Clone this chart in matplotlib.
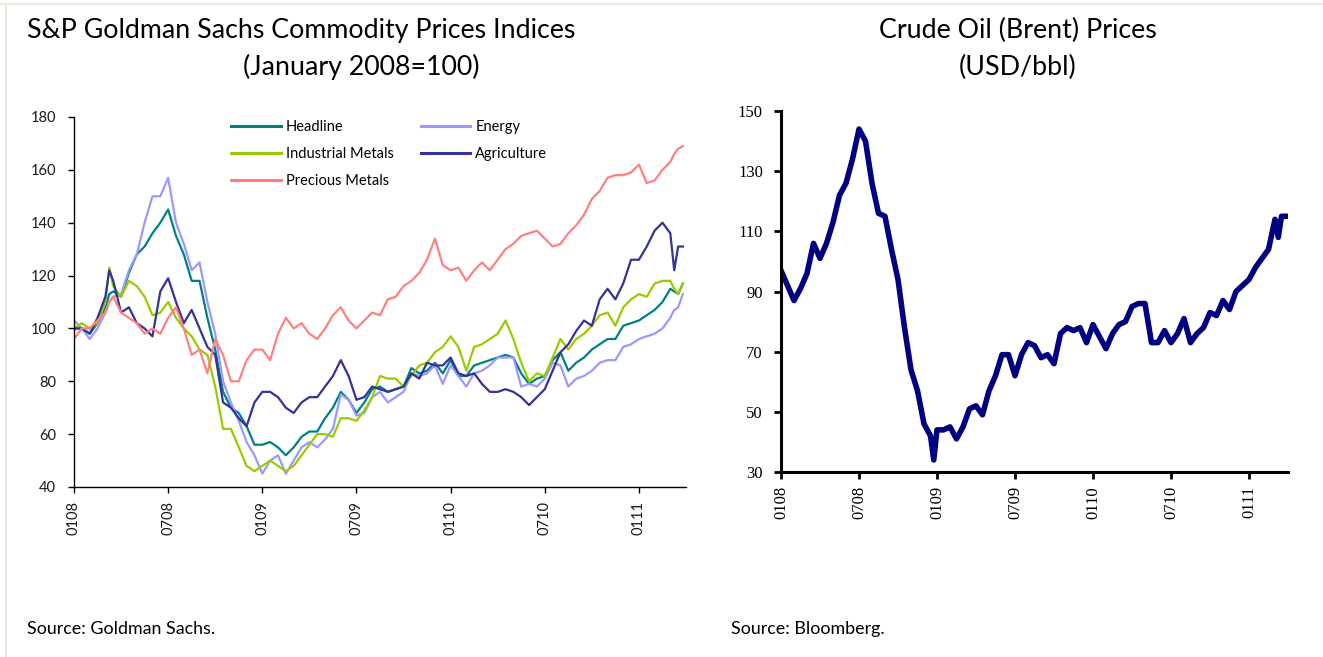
import matplotlib
matplotlib.use('Agg')
import matplotlib.pyplot as plt
from matplotlib.patches import Rectangle
from matplotlib.lines import Line2D

W, H, DPI = 1323, 657, 100

# ---------------- data ----------------
# months since January 2008
gs_months = [0, 0.5, 1, 1.5, 2, 2.25, 2.5, 3, 3.5, 4, 4.5, 5, 5.5, 6, 6.5, 7, 7.5, 8, 8.5, 9,
             9.5, 10, 10.5, 11, 11.5, 12, 12.5, 13, 13.5, 14, 14.5, 15, 15.5, 16, 16.5, 17,
             17.5, 18, 18.5, 19, 19.5, 20, 20.5, 21, 21.5, 22, 22.5, 23, 23.5, 24, 24.5, 25,
             25.5, 26, 26.5, 27, 27.5, 28, 28.5, 29, 29.5, 30, 30.5, 31, 31.5, 32, 32.5, 33,
             33.5, 34, 34.5, 35, 35.5, 36, 36.5, 37, 37.5, 38, 38.25, 38.5, 38.8]

headline = [100, 100, 98, 102, 108, 113, 114, 112, 121, 128, 131, 136, 140, 145, 135, 128, 118, 118, 104, 92,
            76, 70, 68, 63, 56, 56, 57, 55, 52, 55, 59, 61, 61, 66, 70, 76,
            73, 68, 72, 77, 78, 76, 77, 78, 85, 83, 84, 87, 83, 88, 82, 82,
            86, 87, 88, 89, 90, 89, 83, 79, 81, 82, 88, 91, 84, 87, 89, 92,
            94, 96, 96, 101, 102, 103, 105, 107, 110, 115, 114, 113, 117]

energy = [103, 100, 96, 100, 106, 110, 112, 113, 122, 128, 140, 150, 150, 157, 140, 132, 122, 125, 110, 98,
          80, 72, 65, 57, 52, 45, 50, 52, 45, 50, 55, 57, 55, 58, 62, 75,
          73, 67, 68, 74, 76, 72, 74, 76, 83, 82, 83, 86, 79, 86, 82, 78,
          83, 84, 86, 89, 89, 89, 78, 79, 78, 81, 87, 86, 78, 81, 82, 84,
          87, 88, 88, 93, 94, 96, 97, 98, 100, 104, 107, 108, 113]

industrial = [100, 102, 100, 102, 110, 123, 116, 112, 118, 116, 112, 105, 106, 110, 104, 100, 97, 92, 90, 78,
              62, 62, 55, 48, 46, 48, 50, 48, 46, 48, 52, 56, 60, 60, 59, 66,
              66, 65, 69, 74, 82, 81, 81, 78, 82, 86, 87, 91, 93, 97, 93, 84,
              93, 94, 96, 98, 103, 96, 87, 80, 83, 82, 89, 96, 92, 96, 98, 101,
              105, 106, 101, 108, 111, 113, 112, 117, 118, 118, 115, 113, 117]

agriculture = [100, 100, 98, 104, 112, 122, 118, 106, 108, 102, 100, 97, 114, 119, 110, 102, 107, 100, 93, 90,
               72, 70, 66, 63, 72, 76, 76, 74, 70, 68, 72, 74, 74, 78, 82, 88,
               82, 73, 74, 78, 77, 76, 77, 78, 83, 81, 87, 86, 86, 89, 83, 82,
               83, 79, 76, 76, 77, 76, 74, 71, 74, 77, 84, 91, 94, 99, 103, 101,
               111, 115, 111, 117, 126, 126, 131, 137, 140, 136, 122, 131, 131]

precious = [96, 100, 100, 103, 106, 110, 112, 106, 104, 102, 98, 100, 98, 104, 108, 100, 90, 92, 83, 96,
            90, 80, 80, 88, 92, 92, 88, 98, 104, 100, 102, 98, 96, 100, 105, 108,
            103, 100, 103, 106, 105, 111, 112, 116, 118, 121, 126, 134, 124, 122, 123, 118,
            122, 125, 122, 126, 130, 132, 135, 136, 137, 134, 131, 132, 136, 139, 143, 149,
            152, 157, 158, 158, 159, 162, 155, 156, 160, 163, 166, 168, 169]

brent_months = [0, 0.5, 1, 1.5, 2, 2.5, 3, 3.5, 4, 4.5, 5, 5.5, 6, 6.5, 7, 7.5, 8, 8.5, 9, 9.5,
                10, 10.5, 11, 11.5, 11.75, 12, 12.5, 13, 13.5, 14, 14.5, 15, 15.5, 16, 16.5, 17,
                17.5, 18, 18.5, 19, 19.5, 20, 20.5, 21, 21.5, 22, 22.5, 23, 23.5, 24, 24.5, 25,
                25.5, 26, 26.5, 27, 27.5, 28, 28.5, 29, 29.5, 30, 30.5, 31, 31.5, 32, 32.5, 33,
                33.5, 34, 34.5, 35, 35.5, 36, 36.5, 37, 37.5, 38, 38.25, 38.5, 38.9]

brent = [97, 92, 87, 91, 96, 106, 101, 106, 113, 122, 126, 134, 144, 140, 126, 116, 115, 104, 94, 78,
         64, 57, 46, 42, 34, 44, 44, 45, 41, 45, 51, 52, 49, 57, 62, 69,
         69, 62, 69, 73, 72, 68, 69, 66, 76, 78, 77, 78, 73, 79, 75, 71,
         76, 79, 80, 85, 86, 86, 73, 73, 77, 73, 76, 81, 73, 76, 78, 83,
         82, 87, 84, 90, 92, 94, 98, 101, 104, 114, 108, 115, 115]

tick_months = [0, 6, 12, 18, 24, 30, 36]
tick_labels = ['0108', '0708', '0109', '0709', '0110', '0710', '0111']

series = [
    ('Headline', headline, '#008080'),
    ('Energy', energy, '#9999FF'),
    ('Industrial Metals', industrial, '#99CC00'),
    ('Agriculture', agriculture, '#333399'),
    ('Precious Metals', precious, '#FF8080'),
]

# ---------------- figure ----------------
fig = plt.figure(figsize=(W / DPI, H / DPI), dpi=DPI)
fig.patch.set_facecolor('white')
SANS = 'Lato'
SERIF = 'Liberation Serif'


def rect(x0, y0, x1, y1):
    return [x0 / W, 1 - y1 / H, (x1 - x0) / W, (y1 - y0) / H]


# frame decoration
fig.add_artist(Rectangle((0, 1 - 5 / H), 1, 2 / H, transform=fig.transFigure,
                         facecolor='#ECE8D8', edgecolor='none'))
fig.add_artist(Rectangle((5 / W, 0), 2 / W, 1 - 3 / H, transform=fig.transFigure,
                         facecolor='#ECE8D8', edgecolor='none'))

# ---------------- left chart ----------------
ax1 = fig.add_axes(rect(74, 117, 686, 487))
handles = {}
for name, vals, col in series:
    ln, = ax1.plot(gs_months, vals, color=col, lw=1.6, label=name, solid_joinstyle='round')
    handles[name] = ln
ax1.set_xlim(0, 39)
ax1.set_ylim(40, 180)
ax1.set_yticks(range(40, 181, 20))
ax1.set_xticks(tick_months)
ax1.set_xticklabels(tick_labels, rotation=90)
for s in ['top', 'right']:
    ax1.spines[s].set_visible(False)
for s in ['left', 'bottom']:
    ax1.spines[s].set_linewidth(1.0)
    ax1.spines[s].set_color('black')
ax1.tick_params(axis='both', direction='out', length=4, width=1, color='black',
                labelsize=10.5, labelcolor='#1a1a1a')
ax1.tick_params(axis='y', pad=9)
ax1.tick_params(axis='x', pad=6)
for lab in ax1.get_xticklabels() + ax1.get_yticklabels():
    lab.set_family(SANS)

order = ['Headline', 'Industrial Metals', 'Precious Metals', 'Energy', 'Agriculture']
leg = ax1.legend([Line2D([], [], color=handles[n].get_color(), lw=2.2) for n in order], order,
                 ncol=2, loc='upper left', bbox_to_anchor=(231 / W, 1 - 120 / H),
                 bbox_transform=fig.transFigure, frameon=False, borderpad=0, borderaxespad=0,
                 handlelength=3.4, handletextpad=0.35, columnspacing=1.85, labelspacing=0.9,
                 prop={'family': SANS, 'size': 10.5})

# ---------------- right chart ----------------
ax2 = fig.add_axes(rect(781, 111, 1288, 472))
ax2.plot(brent_months, brent, color='#000080', lw=4.0, solid_joinstyle='round')
ax2.set_xlim(0, 39)
ax2.set_ylim(30, 150)
ax2.set_yticks(range(30, 151, 20))
ax2.set_xticks(tick_months)
ax2.set_xticklabels(tick_labels, rotation=90)
for s in ['top', 'right']:
    ax2.spines[s].set_visible(False)
for s in ['left', 'bottom']:
    ax2.spines[s].set_linewidth(2.2)
    ax2.spines[s].set_color('black')
ax2.tick_params(axis='both', direction='out', length=5, width=2, color='black',
                labelsize=12, labelcolor='black')
ax2.tick_params(axis='y', pad=8)
ax2.tick_params(axis='x', pad=5)
for lab in ax2.get_xticklabels() + ax2.get_yticklabels():
    lab.set_family(SERIF)

# ---------------- texts ----------------
renderer = fig.canvas.get_renderer()


def fit_text(x, y, s, width_px, ha='left'):
    t = fig.text(x / W, 1 - y / H, s, family=SANS, fontsize=20, ha=ha, va='baseline', color='black')
    w = t.get_window_extent(renderer=renderer).width
    t.set_fontsize(20 * width_px / w)
    return t


t1 = fit_text(27, 38, 'S&P Goldman Sachs Commodity Prices Indices', 548)
tsize = t1.get_fontsize()
fig.text(361 / W, 1 - 75 / H, '(January 2008=100)', family=SANS, fontsize=tsize, ha='center', va='baseline')
fig.text(1018 / W, 1 - 38 / H, 'Crude Oil (Brent) Prices', family=SANS, fontsize=tsize, ha='center', va='baseline')
fig.text(1018 / W, 1 - 75 / H, '(USD/bbl)', family=SANS, fontsize=tsize, ha='center', va='baseline')

s1 = fit_text(27, 634, 'Source: Goldman Sachs.', 188)
fig.text(731 / W, 1 - 634 / H, 'Source: Bloomberg.', family=SANS, fontsize=s1.get_fontsize(),
         ha='left', va='baseline')

fig.savefig('out.png', dpi=DPI, facecolor='white')
